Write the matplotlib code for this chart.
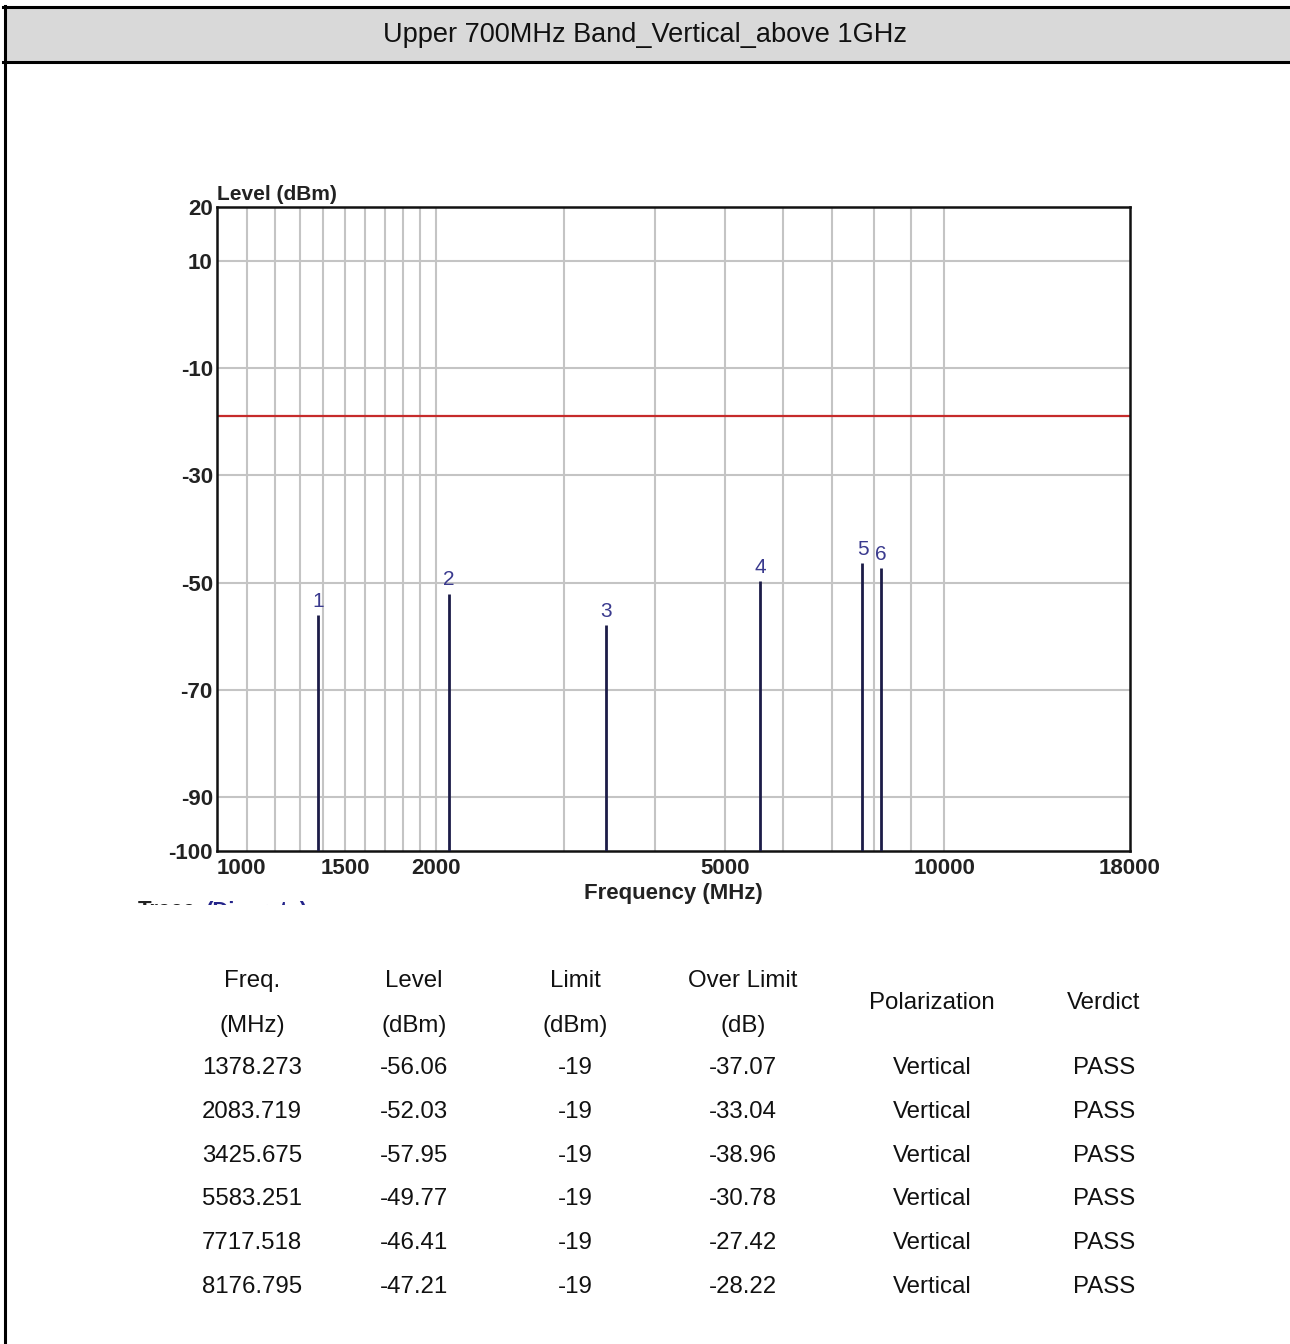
import matplotlib
matplotlib.use("Agg")
import matplotlib.pyplot as plt
from matplotlib.patches import Rectangle
from matplotlib.lines import Line2D
from matplotlib.transforms import Bbox, TransformedBbox

plt.rcParams['font.family'] = ['Liberation Sans', 'DejaVu Sans']

# chart data
title = "Upper 700MHz Band_Vertical_above 1GHz"
freqs = [1378.273, 2083.719, 3425.675, 5583.251, 7717.518, 8176.795]
levels = [-56.06, -52.03, -57.95, -49.77, -46.41, -47.21]
limits = [-19, -19, -19, -19, -19, -19]
over_limit = [-37.07, -33.04, -38.96, -30.78, -27.42, -28.22]
polarization = ["Vertical"] * 6
verdict = ["PASS"] * 6
marker_ids = ["1", "2", "3", "4", "5", "6"]
limit_level = -19

x_ticks = [1000, 1500, 2000, 5000, 10000, 18000]
x_grid = [1100, 1200, 1300, 1400, 1500, 1600, 1700, 1800, 1900, 2000,
          3000, 4000, 5000, 6000, 7000, 8000, 9000, 10000]
y_ticks = [20, 10, -10, -30, -50, -70, -90, -100]
y_grid = [10, -10, -30, -50, -70, -90]

W, H = 1290, 1344
fig = plt.figure(figsize=(W / 100, H / 100), dpi=100)
fig.patch.set_facecolor("white")

def fx(px):
    return px / W

def fy(py):
    return 1 - py / H

# header bar and frame
fig.add_artist(Rectangle((fx(5), fy(62)), 1, fy(7) - fy(62), transform=fig.transFigure,
                         facecolor="#d9d9d9", edgecolor="none"))
fig.add_artist(Line2D([fx(3), 1], [fy(7), fy(7)], transform=fig.transFigure, color="black", lw=2.2))
fig.add_artist(Line2D([fx(3), 1], [fy(62), fy(62)], transform=fig.transFigure, color="black", lw=2.2))
fig.add_artist(Line2D([fx(5), fx(5)], [fy(6), 0], transform=fig.transFigure, color="black", lw=2.2))
fig.text(fx(645), fy(35), title, ha="center", va="center", fontsize=19.5, color="#111111")

# the spectrum plot
ax = fig.add_axes([fx(217), fy(851), fx(1130) - fx(217), fy(207) - fy(851)])
ax.set_xscale("log")
ax.set_xlim(1000, 18000)
ax.set_ylim(-100, 20)

ax.set_xticks(x_ticks)
ax.set_xticklabels([str(t) for t in x_ticks])
ax.set_xticks(x_grid, minor=True)
ax.xaxis.set_minor_formatter(plt.NullFormatter())
ax.set_yticks(y_ticks)
ax.set_yticklabels([str(t) for t in y_ticks])
ax.tick_params(axis="both", which="both", length=0, labelsize=16)
ax.tick_params(axis="x", pad=5)
ax.tick_params(axis="y", pad=3)
for lab in ax.get_xticklabels() + ax.get_yticklabels():
    lab.set_fontweight("bold")
    lab.set_color("#222222")
ax.get_xticklabels()[0].set_horizontalalignment("left")

for g in x_grid:
    ax.axvline(g, color="#c4c4c4", lw=1.5, zorder=0)
for g in y_grid:
    ax.axhline(g, color="#c4c4c4", lw=1.5, zorder=0)

ax.axhline(limit_level, color="#c62b2b", lw=1.6, zorder=2)
ax.vlines(freqs, -100, levels, color="#1c1c48", lw=2, zorder=3)
for f, lv, m in zip(freqs, levels, marker_ids):
    ax.annotate(m, (f, lv), xytext=(0, 3), textcoords="offset points",
                ha="center", va="bottom", fontsize=15, color="#3a3a8e")

for s in ax.spines.values():
    s.set_linewidth(1.8)
    s.set_color("#111111")

ax.text(0, 1.004, "Level (dBm)", transform=ax.transAxes, ha="left", va="bottom",
        fontsize=15, fontweight="bold", color="#222222")
ax.set_xlabel("Frequency (MHz)", fontsize=16, fontweight="bold", color="#222222", labelpad=3)

# cut-off trace label below the plot (screenshot is cropped there)
clip = TransformedBbox(Bbox.from_extents(0, fy(905), 1, 1), fig.transFigure)
t1 = fig.text(fx(203), fy(911), "Trace:", ha="right", va="center", fontsize=16,
              fontweight="bold", color="#222222", clip_on=True)
t2 = fig.text(fx(206), fy(911), "(Discrete)", ha="left", va="center", fontsize=16,
              fontweight="bold", color="#24248a", clip_on=True)
t1.set_clip_box(clip)
t2.set_clip_box(clip)

# result table
col_x = [252, 414, 575, 743, 932, 1104]
fs = 17.3
head1 = ["Freq.", "Level", "Limit", "Over Limit"]
head2 = ["(MHz)", "(dBm)", "(dBm)", "(dB)"]
for cx, h1, h2 in zip(col_x[:4], head1, head2):
    fig.text(fx(cx), fy(981), h1, ha="center", va="center", fontsize=fs, color="#111111")
    fig.text(fx(cx), fy(1026), h2, ha="center", va="center", fontsize=fs, color="#111111")
fig.text(fx(col_x[4]), fy(1003), "Polarization", ha="center", va="center", fontsize=fs, color="#111111")
fig.text(fx(col_x[5]), fy(1003), "Verdict", ha="center", va="center", fontsize=fs, color="#111111")

row_y0, row_step = 1068, 43.8
for i in range(len(freqs)):
    cells = [f"{freqs[i]:.3f}", f"{levels[i]:.2f}", str(limits[i]),
             f"{over_limit[i]:.2f}", polarization[i], verdict[i]]
    y = row_y0 + i * row_step
    for cx, c in zip(col_x, cells):
        fig.text(fx(cx), fy(y), c, ha="center", va="center", fontsize=fs, color="#111111")

fig.savefig("out.png", dpi=100)
